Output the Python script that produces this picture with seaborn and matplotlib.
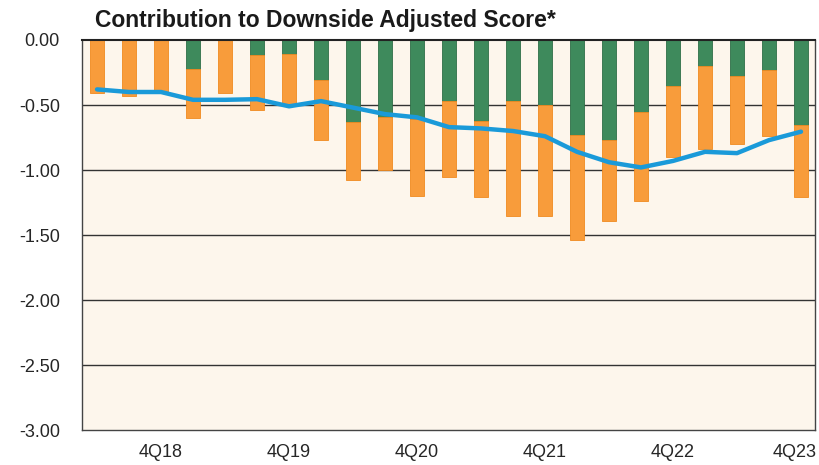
import numpy as np
import pandas as pd
import matplotlib
matplotlib.use("Agg")
import matplotlib.pyplot as plt
import matplotlib.transforms as mtransforms
import seaborn as sns

# --- data ---
quarters = ["2Q18", "3Q18", "4Q18",
            "1Q19", "2Q19", "3Q19", "4Q19",
            "1Q20", "2Q20", "3Q20", "4Q20",
            "1Q21", "2Q21", "3Q21", "4Q21",
            "1Q22", "2Q22", "3Q22", "4Q22",
            "1Q23", "2Q23", "3Q23", "4Q23"]

# green segment (top, from 0 down)
green = [0.00, 0.00, 0.00, -0.22, 0.00, -0.115, -0.11, -0.31,
         -0.63, -0.595, -0.61, -0.47, -0.62, -0.47, -0.50, -0.73,
         -0.77, -0.55, -0.35, -0.20, -0.28, -0.23, -0.65]

# bottom of the whole bar (green + orange)
total = [-0.41, -0.43, -0.40, -0.60, -0.41, -0.54, -0.49, -0.77,
         -1.08, -1.00, -1.20, -1.05, -1.21, -1.35, -1.35, -1.54,
         -1.39, -1.24, -0.90, -0.84, -0.80, -0.74, -1.21]

# blue line
line = [-0.38, -0.40, -0.40, -0.46, -0.46, -0.455, -0.51, -0.47,
        -0.52, -0.57, -0.595, -0.67, -0.68, -0.70, -0.74, -0.86,
        -0.94, -0.98, -0.93, -0.86, -0.87, -0.77, -0.705]

tick_labels = ["4Q18", "4Q19", "4Q20", "4Q21", "4Q22", "4Q23"]

GREEN = "#3e8a5c"
ORANGE = "#f89c3b"
BLUE = "#1a9ad9"
BG = "#fdf6ec"

df = pd.DataFrame({"Quarter": quarters, "Green": green, "Total": total, "Line": line})
df["Orange"] = df["Total"] - df["Green"]
df["pos"] = np.arange(len(df))

sns.set_style("white")
plt.rcParams["font.family"] = ["Liberation Sans", "DejaVu Sans"]

fig = plt.figure(figsize=(8.2, 4.65), dpi=100)
ax = fig.add_axes([0.1, 0.075, 0.894, 0.839])
ax.set_facecolor(BG)

# gridlines behind bars
for v in [-0.5, -1.0, -1.5, -2.0, -2.5]:
    ax.axhline(v, color="#333333", lw=1.0, zorder=0)

sns.barplot(data=df, x="Quarter", y="Green", order=quarters, color=GREEN,
            width=0.44, edgecolor="#2f6e47", linewidth=0.6, saturation=1,
            ax=ax, zorder=2)
sns.barplot(data=df, x="Quarter", y="Orange", order=quarters, color=ORANGE,
            width=0.44, bottom=df["Green"].values, edgecolor="#f08a20",
            linewidth=0.6, saturation=1, ax=ax, zorder=2)

sns.lineplot(data=df, x="pos", y="Line", color=BLUE, lw=3.2, ax=ax, zorder=3)

ax.set_xlim(-0.47, 22.44)
ax.set_ylim(-3.0, 0.0)
yt = np.arange(-3.0, 0.01, 0.5)
ax.set_yticks(yt)
ax.set_yticklabels([f"{v:.2f}" for v in yt], fontsize=13)
ax.set_xticks([quarters.index(t) for t in tick_labels])
ax.set_xticklabels(tick_labels, fontsize=13)
ax.tick_params(axis="y", length=0, pad=16)
ax.tick_params(axis="x", length=0, pad=10)
ax.set_xlabel("")
ax.set_ylabel("")

# last label sits a little left so it stays inside the figure
last = ax.get_xticklabels()[-1]
last.set_transform(last.get_transform() +
                   mtransforms.ScaledTranslation(-6 / 100, 0, fig.dpi_scale_trans))

for s in ax.spines.values():
    s.set_color("#444444")
    s.set_linewidth(1.0)
ax.spines["top"].set_color("#222222")
ax.spines["top"].set_linewidth(1.5)

fig.text(0.116, 0.955, "Contribution to Downside Adjusted Score*",
         fontsize=16.5, fontweight="bold", color="#1a1a1a", va="center")

fig.savefig("out.png", dpi=100, facecolor="white")
